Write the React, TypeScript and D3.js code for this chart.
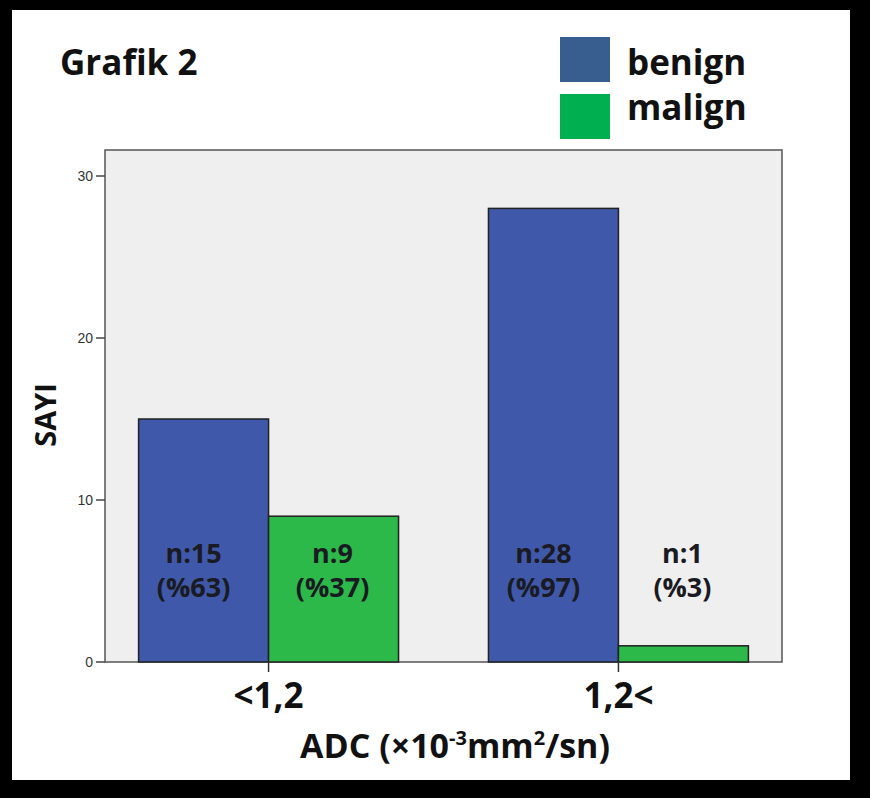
import React from "react";
import * as d3 from "d3";

const categories = ["<1,2", "1,2<"];
const seriesNames = ["benign", "malign"];
const benignValues = [15, 28];
const malignValues = [9, 1];
const barLabels = [
  ["n:15", "(%63)", "n:9", "(%37)"],
  ["n:28", "(%97)", "n:1", "(%3)"],
];
const yTicks = [0, 10, 20, 30];

const W = 870;
const H = 798;
const FONT = "'Open Sans', Lato, sans-serif";

export default function App() {
  const plot = { left: 105, right: 782, top: 150, bottom: 662 };
  const y = d3.scaleLinear().domain([0, 30]).range([plot.bottom, 176]);
  const x = d3
    .scaleBand<string>()
    .domain(categories)
    .range([plot.left, plot.right])
    .paddingInner(0.257)
    .paddingOuter(0.096);
  const sub = d3
    .scaleBand<string>()
    .domain(seriesNames)
    .range([0, x.bandwidth()]);
  const barColors = ["#3f58a9", "#2db84a"];
  const legendColors = ["#385d8f", "#00b050"];
  const labelShift = [-10, -1];
  const series = [benignValues, malignValues];

  return (
    <svg
      width={W}
      height={H}
      style={{ position: "absolute", left: 0, top: 0 }}
      fontFamily={FONT}
    >
      <rect x={0} y={0} width={W} height={H} fill="#000" />
      <rect x={12} y={10} width={838} height={770} fill="#fff" />

      <text x={60} y={75} fontSize={35} fontWeight={700} fill="#111">
        Grafik 2
      </text>

      {seriesNames.map((s, i) => (
        <g key={s}>
          <rect
            x={560}
            y={37 + i * 57}
            width={50}
            height={45}
            fill={legendColors[i]}
          />
          <text
            x={627}
            y={75 + i * 45}
            fontSize={35}
            fontWeight={700}
            fill="#111"
          >
            {s}
          </text>
        </g>
      ))}

      <rect
        x={plot.left}
        y={plot.top}
        width={plot.right - plot.left}
        height={plot.bottom - plot.top}
        fill="#efefef"
        stroke="#555"
        strokeWidth={1.5}
      />

      {categories.map((c, ci) =>
        seriesNames.map((s, si) => {
          const v = series[si][ci];
          const bx = (x(c) as number) + (sub(s) as number);
          return (
            <rect
              key={c + s}
              x={bx}
              y={y(v)}
              width={sub.bandwidth()}
              height={y(0) - y(v)}
              fill={barColors[si]}
              stroke="#222"
              strokeWidth={1.5}
            />
          );
        })
      )}

      {categories.map((c, ci) =>
        seriesNames.map((s, si) => {
          const cx =
            (x(c) as number) + (sub(s) as number) + sub.bandwidth() / 2 + labelShift[si];
          return (
            <g key={"l" + c + s} fontSize={27} fontWeight={700} fill="#1a1a22" textAnchor="middle">
              <text x={cx} y={563}>{barLabels[ci][si * 2]}</text>
              <text x={cx} y={597}>{barLabels[ci][si * 2 + 1]}</text>
            </g>
          );
        })
      )}

      {yTicks.map((t) => (
        <g key={t}>
          <line x1={96} x2={plot.left} y1={y(t)} y2={y(t)} stroke="#444" strokeWidth={1.5} />
          <text
            x={93}
            y={y(t) + 5}
            textAnchor="end"
            fontSize={14}
            fontFamily="'Liberation Sans', Arial, sans-serif"
            fill="#333"
          >
            {t}
          </text>
        </g>
      ))}

      {categories.map((c) => {
        const cx = (x(c) as number) + x.bandwidth() / 2;
        return (
          <g key={"x" + c}>
            <line x1={cx} x2={cx} y1={plot.bottom} y2={plot.bottom + 10} stroke="#333" strokeWidth={1.5} />
            <text x={cx} y={708} textAnchor="middle" fontSize={35} fontWeight={700} fill="#111">
              {c}
            </text>
          </g>
        );
      })}

      <text x={455} y={758} textAnchor="middle" fontSize={34} fontWeight={700} fill="#111">
        ADC (×10
        <tspan fontSize={20} dy={-13}>-3</tspan>
        <tspan dy={13}>mm</tspan>
        <tspan fontSize={20} dy={-13}>2</tspan>
        <tspan dy={13}>/sn)</tspan>
      </text>

      <text
        transform="translate(56,415) rotate(-90)"
        textAnchor="middle"
        fontSize={29}
        fontWeight={700}
        fill="#111"
      >
        SAYI
      </text>
    </svg>
  );
}
